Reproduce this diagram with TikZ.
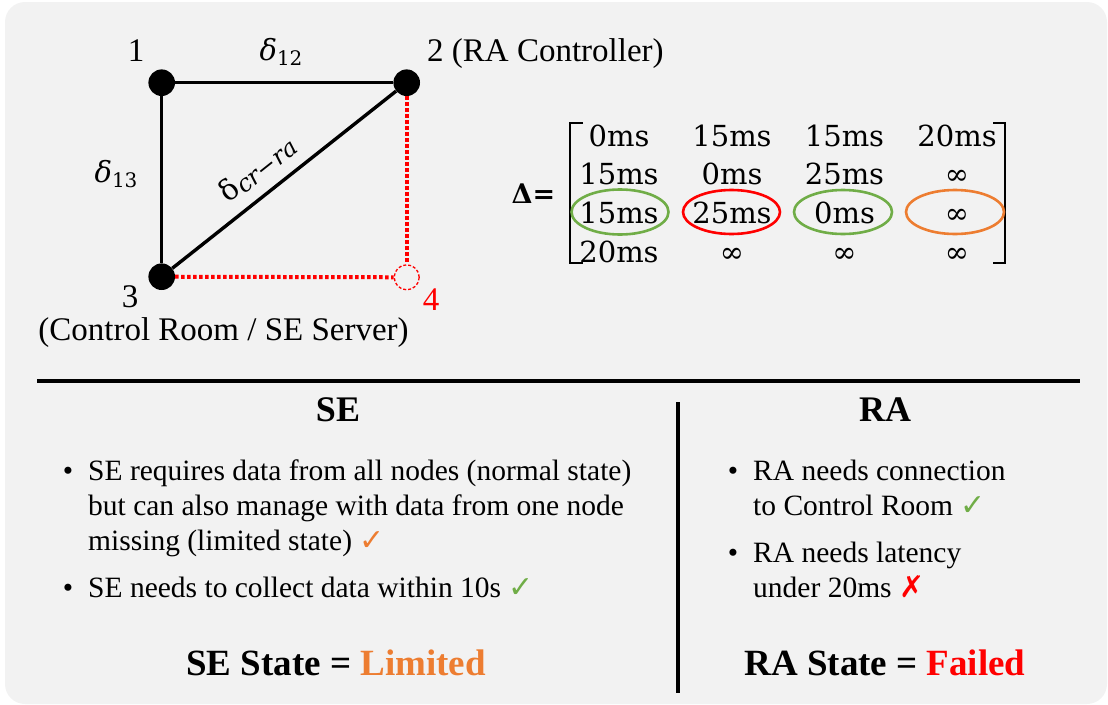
\documentclass[tikz,border=0pt]{standalone}
\usepackage{fontspec}
\setmainfont{Liberation Serif}
\newfontfamily\dfont{DejaVu Serif}
\newfontfamily\symfont{DejaVu Sans}
\usetikzlibrary{calc}
\definecolor{bgcol}{HTML}{F2F2F2}
\definecolor{okgreen}{HTML}{70AD47}
\definecolor{warnorange}{HTML}{ED7D31}
\definecolor{failred}{HTML}{FF0000}
\newcommand{\fs}[1]{\fontsize{#1}{#1}\selectfont}
\newcommand{\okmark}[1]{{\symfont\fs{30}\color{#1}✓}}
\newcommand{\nomark}{{\symfont\fs{30}\color{failred}✗}}
\tikzset{
  vertex/.style={circle,fill=black,minimum size=26.6pt,inner sep=0pt},
  lostvertex/.style={circle,draw=failred,dashed,dash pattern=on 3pt off 2pt,line width=1.3pt,minimum size=25pt,inner sep=0pt},
  link/.style={line width=3.4pt},
  deadlink/.style={line width=4pt,draw=failred,dash pattern=on 3.4pt off 2.6pt},
  graphlbl/.style={anchor=base,inner sep=0pt,font=\fs{33}},
  cell/.style={anchor=base,inner sep=0pt,font=\dfont\fs{29}},
  ring/.style={line width=2.6pt},
  bullettext/.style={anchor=base west,inner sep=0pt,font=\fs{29.5}},
  bulletdot/.style={anchor=base,inner sep=0pt,font=\fs{29.5}},
  heading/.style={anchor=base,inner sep=0pt,font=\bfseries\fs{36}},
  verdict/.style={anchor=base,inner sep=0pt,font=\bfseries\fs{37}}
}
\begin{document}
\begin{tikzpicture}[x=1pt,y=-1pt]
\useasboundingbox (0,0) rectangle (1108,704);
\fill[bgcol,rounded corners=20pt] (5,2) rectangle (1107,704);

% ---------- network graph ----------
\node[vertex] (n1) at (161.7,82.7) {};
\node[vertex] (n2) at (406.7,82.7) {};
\node[vertex] (n3) at (161.7,276.7) {};
\node[lostvertex] (n4) at (406.7,277.3) {};
\draw[link] (n1) -- (n2);
\draw[link] (n1) -- (n3);
\draw[link] (n3) -- node[sloped,above=11pt,pos=0.45,inner sep=0pt] (dcr)
  {{\dfont\fs{29}δ}\raisebox{-3pt}{\dfont\itshape\fs{24}cr−ra}} (n2);
\draw[deadlink] (n2) -- (n4);
\draw[deadlink] (n3) -- (n4);

\node[graphlbl] (l1) at (136,61.5) {1};
\node[graphlbl,anchor=base west] (l2) at (427,61) {2 (RA Controller)};
\node[graphlbl] (l3) at (130,307.5) {3};
\node[graphlbl,text=failred] (l4) at (431,310) {4};
\node[graphlbl] (lcr) at (223.5,340) {(Control Room / SE Server)};
\node[anchor=base,inner sep=0pt] (d12) at (281,60)
  {{\dfont\itshape\fs{29}δ}\raisebox{-5pt}{\dfont\fs{20}12}};
\node[anchor=base,inner sep=0pt] (d13) at (116,182)
  {{\dfont\itshape\fs{29}δ}\raisebox{-5pt}{\dfont\fs{20}13}};

% ---------- latency matrix ----------
\node[anchor=base,inner sep=0pt,font=\dfont\bfseries\fs{27}] (delta) at (533.5,203) {Δ=};
\foreach \r/\y in {1/146,2/184.7,3/223.3,4/262}{
  \foreach \c/\x in {1/619,2/732,3/844.5,4/957}{
    \coordinate (p\r\c) at (\x,\y);
  }
}
\node[cell] (m11) at (p11) {0ms};
\node[cell] (m12) at (p12) {15ms};
\node[cell] (m13) at (p13) {15ms};
\node[cell] (m14) at (p14) {20ms};
\node[cell] (m21) at (p21) {15ms};
\node[cell] (m22) at (p22) {0ms};
\node[cell] (m23) at (p23) {25ms};
\node[cell] (m24) at (p24) {∞};
\node[cell] (m31) at (p31) {15ms};
\node[cell] (m32) at (p32) {25ms};
\node[cell] (m33) at (p33) {0ms};
\node[cell] (m34) at (p34) {∞};
\node[cell] (m41) at (p41) {20ms};
\node[cell] (m42) at (p42) {∞};
\node[cell] (m43) at (p43) {∞};
\node[cell] (m44) at (p44) {∞};
% brackets
\draw[line width=2.8pt] (583,123) -- (570,123) -- (570,263) -- (583,263);
\draw[line width=2.8pt] (993,123) -- (1005,123) -- (1005,263) -- (993,263);
% highlighted row of node 3
\draw[ring,okgreen] (620,212) ellipse [x radius=48.5pt,y radius=22.5pt];
\draw[ring,failred] (731.5,212) ellipse [x radius=48.5pt,y radius=22pt];
\draw[ring,okgreen] (843,212) ellipse [x radius=49pt,y radius=22pt];
\draw[ring,warnorange] (955,212) ellipse [x radius=49pt,y radius=22pt];

% ---------- separators ----------
\draw[line width=4pt] (37,380.5) -- (1080,380.5);
\draw[line width=3.5pt] (678,402) -- (678,693);

% ---------- SE column ----------
\node[heading] (seh) at (338,421) {SE};
\node[bulletdot] (seb1) at (68,480) {•};
\node[bullettext] (se1a) at (88,480) {SE requires data from all nodes (normal state)};
\node[bullettext] (se1b) at (88,515) {but can also manage with data from one node};
\node[bullettext] (se1c) at (88,550) {missing (limited state) \okmark{warnorange}};
\node[bulletdot] (seb2) at (68,597) {•};
\node[bullettext] (se2) at (88,597) {SE needs to collect data within 10s \okmark{okgreen}};
\node[verdict] (ses) at (336,675) {SE State = \textcolor{warnorange}{Limited}};

% ---------- RA column ----------
\node[heading] (rah) at (885,421) {RA};
\node[bulletdot] (rab1) at (733,480) {•};
\node[bullettext] (ra1a) at (753,480) {RA needs connection};
\node[bullettext] (ra1b) at (753,515) {to Control Room \okmark{okgreen}};
\node[bulletdot] (rab2) at (733,562) {•};
\node[bullettext] (ra2a) at (753,562) {RA needs latency};
\node[bullettext] (ra2b) at (753,597) {under 20ms \nomark};
\node[verdict] (ras) at (885,675) {RA State = \textcolor{failred}{Failed}};
\end{tikzpicture}
\end{document}
